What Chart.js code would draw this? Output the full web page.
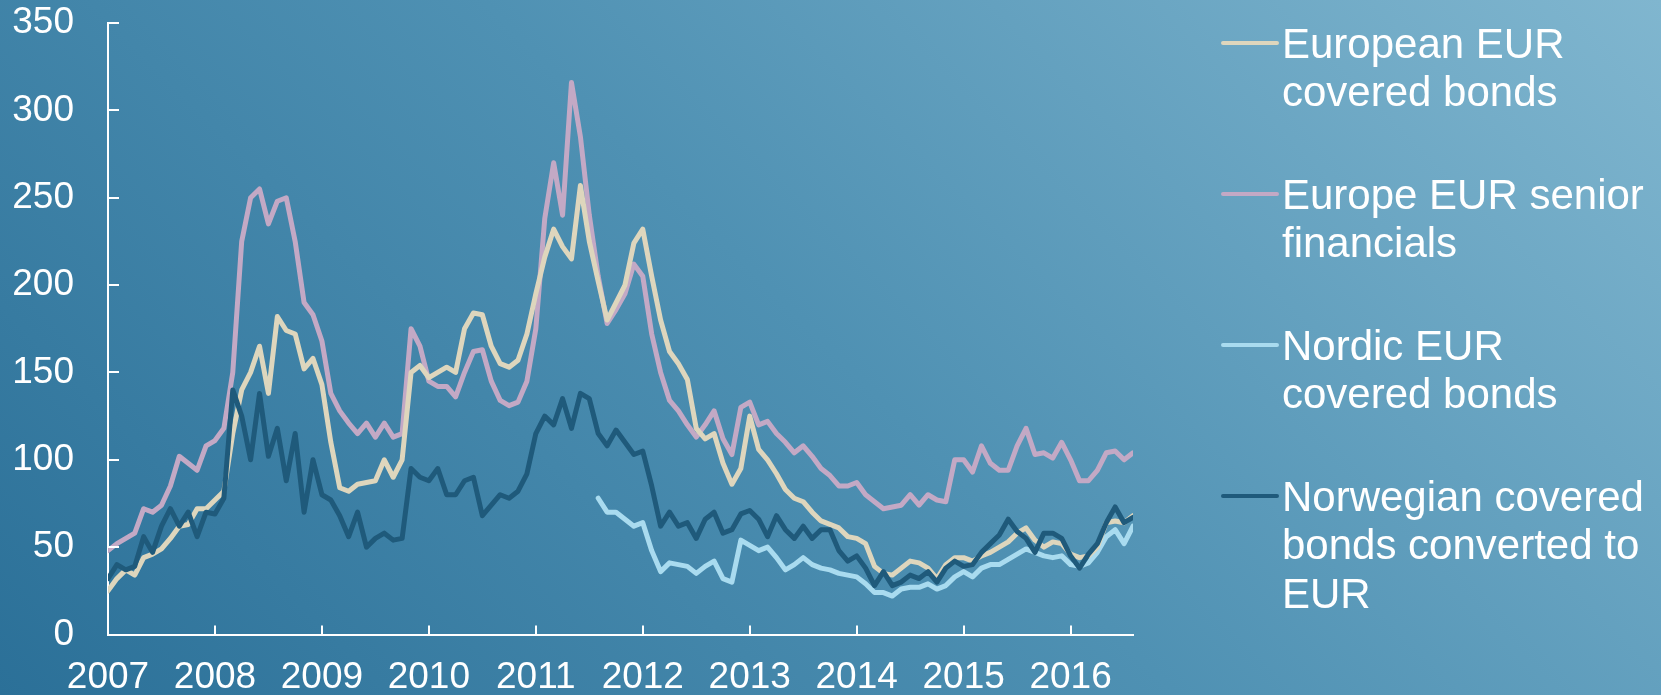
<!DOCTYPE html>
<html>
<head>
<meta charset="utf-8">
<title>Covered bond and senior spreads</title>
<script src="https://cdn.jsdelivr.net/npm/chart.js@4.4.0/dist/chart.umd.min.js"></script>
<style>
  html, body { margin: 0; padding: 0; }
  body {
    width: 1661px; height: 695px; overflow: hidden;
    background: linear-gradient(45deg, #2b7098 0%, #4f91b3 50%, #80b6cf 100%);
  }
  canvas { display: block; }
</style>
</head>
<body>
<canvas id="spreadChart" width="1661" height="695"></canvas>
<script>
// monthly readings, first point Jan 2007, last point Aug 2016
const startYear = 2007;
const yearTicks = [2007, 2008, 2009, 2010, 2011, 2012, 2013, 2014, 2015, 2016];
const valueTicks = [0, 50, 100, 150, 200, 250, 300, 350];

const seriesNames = [
  ['European EUR', 'covered bonds'],
  ['Europe EUR senior', 'financials'],
  ['Nordic EUR', 'covered bonds'],
  ['Norwegian covered', 'bonds converted to', 'EUR']
];

const europeanCovered = [
  25, 32, 37, 34, 44, 46, 49, 55, 62, 63,
  72, 72, 77, 82, 115, 140, 150, 165, 138, 182,
  174, 172, 152, 158, 143, 110, 84, 82, 86, 87,
  88, 100, 90, 100, 150, 154, 147, 150, 153, 150,
  175, 184, 183, 165, 155, 153, 157, 172, 195, 216,
  232, 222, 215, 257, 225, 202, 180, 190, 200, 224,
  232, 205, 180, 162, 155, 146, 118, 112, 115, 98,
  86, 95, 125, 106, 100, 92, 83, 78, 76, 70,
  65, 63, 61, 56, 55, 52, 39, 35, 34, 38,
  42, 41, 38, 32, 40, 44, 44, 42, 45, 47,
  50, 53, 58, 61, 54, 50, 53, 52, 46, 44,
  45, 50, 64, 65, 64, 68
];

const seniorFinancials = [
  48, 52, 55, 58, 72, 70, 74, 85, 102, 98,
  94, 108, 111, 118, 150, 225, 250, 255, 235, 248,
  250, 225, 190, 183, 168, 138, 128, 121, 115, 121,
  113, 121, 113, 115, 175, 165, 145, 142, 142, 136,
  150, 162, 163, 145, 134, 131, 133, 145, 175, 238,
  270, 240, 316, 285, 240, 205, 178, 186, 195, 212,
  205, 172, 150, 134, 128, 120, 113, 120, 128, 112,
  103, 130, 133, 120, 122, 115, 110, 104, 108, 102,
  95, 91, 85, 85, 87, 80, 76, 72, 73, 74,
  80, 74, 80, 77, 76, 100, 100, 93, 108, 98,
  94, 94, 108, 118, 103, 104, 101, 110, 100, 88,
  88, 94, 104, 105, 100, 104
];

// Nordic index only starts in Aug 2011 (month 55 after Jan 2007)
const nordicStartMonth = 55;
const nordicCovered = [
  78, 70, 70, 66, 62,
  64, 48, 36, 41, 40, 39, 35, 39, 42, 32,
  30, 54, 51, 48, 50, 44, 37, 40, 44, 40,
  38, 37, 35, 34, 33, 29, 24, 24, 22, 26,
  27, 27, 29, 26, 28, 33, 36, 33, 38, 40,
  40, 43, 46, 49, 47, 45, 44, 45, 40, 39,
  41, 47, 56, 60, 52, 62
];

const norwegianCovered = [
  32, 40, 37, 39, 56, 47, 62, 72, 62, 70,
  56, 70, 69, 78, 140, 125, 100, 138, 102, 118,
  88, 115, 70, 100, 80, 77, 68, 56, 70, 50,
  55, 58, 54, 55, 95, 90, 88, 95, 80, 80,
  88, 90, 68, 74, 80, 78, 82, 92, 115, 125,
  120, 135, 118, 138, 135, 115, 108, 117, 110, 103,
  105, 85, 62, 70, 62, 64, 55, 66, 70, 58,
  60, 69, 71, 66, 56, 68, 60, 55, 62, 55,
  60, 60, 48, 42, 45, 38, 28, 36, 28, 30,
  34, 32, 36, 30, 38, 42, 39, 40, 47, 52,
  57, 66, 59, 55, 47, 58, 58, 55, 45, 38,
  46, 52, 64, 73, 64, 67
];

const colors = ['#ded6bd', '#c3a9c5', '#a9dbef', '#1f5a7b'];
const fontFamily = '"Liberation Sans", Arial, sans-serif';

function toPoints(values, offset) {
  return values.map((v, i) => ({ x: startYear + (i + offset) / 12, y: v }));
}

const lastX = startYear + (europeanCovered.length - 1) / 12;

// tick marks point inwards in the original
const innerTicks = {
  id: 'innerTicks',
  afterDraw(chart) {
    const { ctx, chartArea, scales: { x, y } } = chart;
    ctx.save();
    ctx.strokeStyle = '#ffffff';
    ctx.lineWidth = 2;
    ctx.beginPath();
    y.ticks.forEach(t => {
      const py = Math.round(y.getPixelForValue(t.value));
      ctx.moveTo(chartArea.left, py);
      ctx.lineTo(chartArea.left + 11, py);
    });
    x.ticks.forEach(t => {
      const px = Math.round(x.getPixelForValue(t.value));
      ctx.moveTo(px, chartArea.bottom);
      ctx.lineTo(px, chartArea.bottom - 9);
    });
    ctx.stroke();
    ctx.restore();
  }
};

// legend on the right with wrapped labels
const sideLegend = {
  id: 'sideLegend',
  afterDraw(chart) {
    const ctx = chart.ctx;
    ctx.save();
    ctx.font = '42px ' + fontFamily;
    ctx.textBaseline = 'middle';
    ctx.fillStyle = '#ffffff';
    chart.data.datasets.forEach((ds, i) => {
      const top = 46 + i * 151;
      ctx.strokeStyle = ds.borderColor;
      ctx.lineWidth = 4;
      ctx.lineCap = 'round';
      ctx.beginPath();
      ctx.moveTo(1223, top - 3);
      ctx.lineTo(1277, top - 3);
      ctx.stroke();
      seriesNames[i].forEach((line, j) => {
        ctx.fillText(line, 1282, top + j * 48.5);
      });
    });
    ctx.restore();
  }
};

new Chart(document.getElementById('spreadChart').getContext('2d'), {
  type: 'line',
  data: {
    datasets: [
      { label: seriesNames[0].join(' '), data: toPoints(europeanCovered, 0), borderColor: colors[0], order: 1 },
      { label: seriesNames[1].join(' '), data: toPoints(seniorFinancials, 0), borderColor: colors[1], order: 3 },
      { label: seriesNames[2].join(' '), data: toPoints(nordicCovered, nordicStartMonth), borderColor: colors[2], order: 2 },
      { label: seriesNames[3].join(' '), data: toPoints(norwegianCovered, 0), borderColor: colors[3], order: 0 }
    ]
  },
  options: {
    responsive: false,
    animation: false,
    devicePixelRatio: 1,
    layout: { padding: { top: 23, right: 528, bottom: 0, left: 0 } },
    elements: {
      line: { borderWidth: 5, tension: 0, borderJoinStyle: 'round', borderCapStyle: 'round' },
      point: { radius: 0 }
    },
    plugins: { legend: { display: false }, tooltip: { enabled: false } },
    scales: {
      x: {
        type: 'linear',
        min: startYear,
        max: lastX,
        afterFit: s => { s.height = 60.5; s.paddingLeft = 0; s.paddingRight = 0; },
        afterBuildTicks: s => { s.ticks = yearTicks.map(v => ({ value: v })); },
        grid: { display: false, drawTicks: false },
        border: { display: true, color: '#ffffff', width: 2 },
        ticks: {
          color: '#ffffff',
          font: { family: fontFamily, size: 37 },
          padding: 21,
          maxRotation: 0,
          autoSkip: false,
          includeBounds: false,
          callback: v => String(v)
        }
      },
      y: {
        min: 0,
        max: 350,
        afterFit: s => { s.width = 108; s.paddingTop = 0; s.paddingBottom = 0; },
        afterBuildTicks: s => { s.ticks = valueTicks.map(v => ({ value: v })); },
        grid: { display: false, drawTicks: false },
        border: { display: true, color: '#ffffff', width: 2 },
        ticks: {
          color: '#ffffff',
          font: { family: fontFamily, size: 37 },
          padding: 34,
          callback: v => String(v)
        }
      }
    }
  },
  plugins: [innerTicks, sideLegend]
});
</script>
</body>
</html>
